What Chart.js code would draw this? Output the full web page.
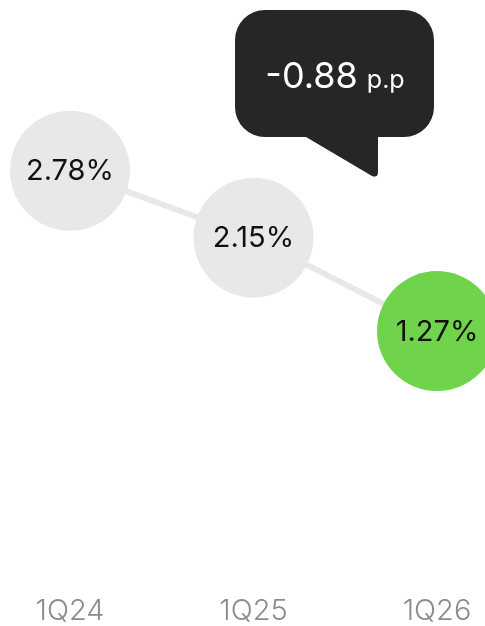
<!DOCTYPE html>
<html>
<head>
<meta charset="utf-8">
<script src="https://cdn.jsdelivr.net/npm/chart.js@4.4.1/dist/chart.umd.min.js"></script>
<style>
  html, body { margin: 0; padding: 0; background: #ffffff; }
  #wrap { width: 485px; height: 626px; position: relative; }
</style>
</head>
<body>
<div id="wrap"><canvas id="c" width="485" height="626"></canvas></div>
<script>
const categories = ['1Q24', '1Q25', '1Q26'];
const rateValues = [2.78, 2.15, 1.27];
const pointColors = ['#e8e8e8', '#e8e8e8', '#6fd34c'];
const deltaUnit = 'p.p';

const FONT = 'Inter, "Noto Sans", sans-serif';

const valueLabels = {
  id: 'valueLabels',
  afterDatasetsDraw(chart) {
    const ctx = chart.ctx;
    const meta = chart.getDatasetMeta(0);
    ctx.save();
    ctx.font = '400 29px ' + FONT;
    ctx.fillStyle = '#111111';
    ctx.textAlign = 'center';
    ctx.textBaseline = 'middle';
    meta.data.forEach((pt, i) => {
      ctx.fillText(rateValues[i].toFixed(2) + '%', pt.x, pt.y + 1);
    });
    ctx.restore();
  }
};

const callout = {
  id: 'callout',
  afterDraw(chart) {
    const ctx = chart.ctx;
    const n = rateValues.length;
    const delta = rateValues[n - 1] - rateValues[n - 2];
    const x0 = 235, y0 = 10, w = 199, h = 127, r = 30;
    ctx.save();
    ctx.fillStyle = '#262626';
    ctx.beginPath();
    ctx.moveTo(x0 + r, y0);
    ctx.lineTo(x0 + w - r, y0);
    ctx.arcTo(x0 + w, y0, x0 + w, y0 + r, r);
    ctx.lineTo(x0 + w, y0 + h - r);
    ctx.arcTo(x0 + w, y0 + h, x0 + w - r, y0 + h, r);
    ctx.lineTo(378, y0 + h);
    ctx.lineTo(378, 172);
    ctx.quadraticCurveTo(378, 178, 372, 176);
    ctx.lineTo(306, y0 + h);
    ctx.lineTo(x0 + r, y0 + h);
    ctx.arcTo(x0, y0 + h, x0, y0 + h - r, r);
    ctx.lineTo(x0, y0 + r);
    ctx.arcTo(x0, y0, x0 + r, y0, r);
    ctx.closePath();
    ctx.fill();

    const big = (delta < 0 ? '-' : '+') + Math.abs(delta).toFixed(2);
    ctx.fillStyle = '#ffffff';
    ctx.textBaseline = 'alphabetic';
    ctx.font = '400 36px ' + FONT;
    const wBig = ctx.measureText(big).width;
    ctx.font = '400 25px ' + FONT;
    const wSmall = ctx.measureText(deltaUnit).width;
    const gap = 9;
    const total = wBig + gap + wSmall;
    let sx = 335 - total / 2;
    ctx.textAlign = 'left';
    ctx.font = '400 36px ' + FONT;
    ctx.fillText(big, sx, 88);
    ctx.font = '400 25px ' + FONT;
    ctx.fillText(deltaUnit, sx + wBig + gap, 88);
    ctx.restore();
  }
};

new Chart(document.getElementById('c'), {
  type: 'line',
  data: {
    labels: categories,
    datasets: [{
      data: rateValues,
      borderColor: '#e8e8e8',
      borderWidth: 6,
      pointRadius: 60,
      pointHoverRadius: 60,
      pointBackgroundColor: pointColors,
      pointBorderWidth: 0,
      tension: 0,
      clip: false
    }]
  },
  options: {
    responsive: false,
    animation: false,
    events: [],
    layout: { autoPadding: false, padding: { top: 0, left: 70, right: 48, bottom: 0 } },
    plugins: { legend: { display: false }, tooltip: { enabled: false } },
    scales: {
      x: {
        offset: false,
        border: { display: false },
        grid: { display: false, drawTicks: false },
        ticks: {
          padding: 0,
          color: '#8c8c8c',
          font: { family: FONT, size: 29, weight: '300', lineHeight: 1 }
        }
      },
      y: {
        display: false,
        min: -1.233,
        max: 4.387
      }
    }
  },
  plugins: [valueLabels, callout]
});
</script>
</body>
</html>
